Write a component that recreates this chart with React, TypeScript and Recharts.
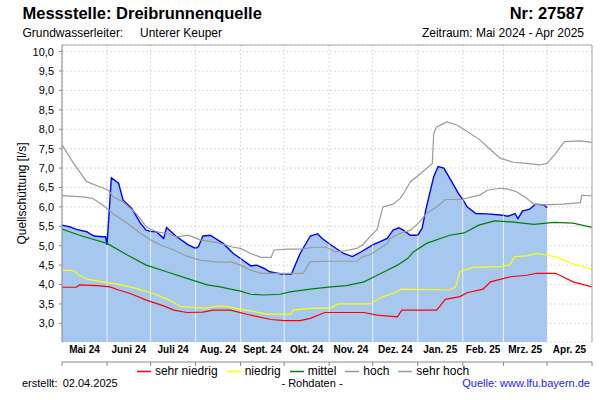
import React from 'react';
import {
  ComposedChart,
  Area,
  Line,
  XAxis,
  YAxis,
  CartesianGrid,
  Legend,
  ReferenceLine,
} from 'recharts';

const FONT = '"Liberation Sans", Arial, Helvetica, sans-serif';

// ---------- axes ----------
const monthStartDays = [0, 31, 61, 92, 123, 153, 184, 214, 245, 276, 304, 334, 365];
const monthLabels = ['Mai 24', 'Juni 24', 'Juli 24', 'Aug. 24', 'Sept. 24', 'Okt. 24', 'Nov. 24', 'Dez. 24', 'Jan. 25', 'Feb. 25', 'Mrz. 25', 'Apr. 25'];
const yTicks = [3.0, 3.5, 4.0, 4.5, 5.0, 5.5, 6.0, 6.5, 7.0, 7.5, 8.0, 8.5, 9.0, 9.5, 10.0];
const Y_MIN = 2.52;
const Y_MAX = 10.17;

// ---------- series (day index since 1 May 2024, value in l/s) ----------
const rohDays = [0, 5, 10, 17, 22, 28, 30, 31, 34, 39, 42, 48, 54, 58, 61, 65, 70, 72, 74, 79, 87, 92, 94, 97, 102, 111, 118, 123, 130, 134, 139, 143, 151, 153, 158, 164, 171, 176, 179, 184, 194, 200, 204, 214, 224, 228, 232, 235, 240, 245, 248, 251, 256, 259, 263, 267, 273, 276, 279, 285, 293, 302, 304, 307, 312, 314, 317, 322, 326, 332, 334];
const rohValues = [5.53, 5.49, 5.42, 5.36, 5.25, 5.23, 5.23, 5.02, 6.75, 6.61, 6.18, 5.96, 5.58, 5.40, 5.37, 5.36, 5.19, 5.47, 5.40, 5.23, 5.02, 4.93, 4.98, 5.25, 5.27, 5.06, 4.80, 4.67, 4.48, 4.50, 4.42, 4.33, 4.27, 4.27, 4.27, 4.80, 5.25, 5.31, 5.19, 5.05, 4.80, 4.72, 4.80, 5.02, 5.19, 5.40, 5.46, 5.40, 5.27, 5.27, 5.45, 6.00, 6.78, 7.04, 7.00, 6.74, 6.35, 6.19, 6.00, 5.83, 5.82, 5.79, 5.78, 5.76, 5.83, 5.70, 5.89, 5.94, 6.07, 6.05, 5.98];

const sehrHochDays = [0, 8, 17, 26, 32, 35, 42, 51, 58, 65, 72, 79, 87, 95, 107, 118, 123, 130, 137, 144, 146, 155, 165, 173, 182, 188, 195, 203, 207, 212, 217, 221, 228, 233, 236, 240, 247, 255, 256, 258, 265, 272, 279, 288, 294, 302, 311, 320, 329, 334, 340, 346, 357, 365];
const sehrHochValues = [7.60, 7.12, 6.65, 6.52, 6.43, 6.26, 6.13, 5.83, 5.49, 5.36, 5.32, 5.23, 5.27, 5.15, 5.08, 4.96, 4.93, 4.80, 4.70, 4.70, 4.89, 4.91, 4.91, 4.96, 4.96, 4.84, 4.87, 4.93, 5.02, 5.23, 5.42, 6.00, 6.07, 6.22, 6.39, 6.65, 6.86, 7.12, 7.89, 8.06, 8.19, 8.11, 7.94, 7.72, 7.51, 7.25, 7.15, 7.12, 7.08, 7.12, 7.38, 7.68, 7.70, 7.66];

const hochDays = [0, 14, 21, 28, 35, 45, 54, 61, 68, 77, 86, 95, 104, 114, 116, 123, 130, 137, 150, 166, 171, 184, 203, 207, 212, 218, 224, 226, 233, 240, 246, 251, 258, 264, 275, 288, 293, 302, 307, 313, 320, 325, 332, 345, 357, 358, 365];
const hochValues = [6.29, 6.26, 6.22, 6.05, 5.83, 5.58, 5.32, 5.15, 5.02, 4.89, 4.73, 4.63, 4.59, 4.57, 4.59, 4.50, 4.37, 4.29, 4.29, 4.29, 4.59, 4.60, 4.60, 4.72, 4.76, 4.91, 5.06, 5.19, 5.32, 5.40, 5.60, 5.83, 6.00, 6.19, 6.19, 6.31, 6.43, 6.48, 6.46, 6.39, 6.22, 6.07, 6.05, 6.07, 6.11, 6.30, 6.28];

const mittelDays = [0, 12, 31, 45, 58, 72, 86, 100, 109, 116, 123, 130, 139, 150, 157, 171, 185, 196, 208, 215, 224, 231, 238, 242, 251, 267, 277, 287, 298, 311, 325, 339, 352, 365];
const mittelValues = [5.43, 5.27, 5.06, 4.76, 4.50, 4.33, 4.16, 3.99, 3.94, 3.88, 3.83, 3.75, 3.73, 3.75, 3.81, 3.88, 3.94, 3.97, 4.07, 4.20, 4.37, 4.50, 4.67, 4.84, 5.06, 5.27, 5.33, 5.53, 5.64, 5.61, 5.55, 5.60, 5.58, 5.47];

const niedrigDays = [0, 8, 12, 17, 28, 38, 51, 63, 74, 82, 90, 100, 107, 114, 123, 130, 141, 158, 159, 173, 185, 190, 212, 221, 228, 234, 267, 271, 274, 283, 302, 308, 312, 320, 327, 334, 341, 352, 365];
const niedrigValues = [4.37, 4.36, 4.23, 4.14, 4.07, 4.01, 3.90, 3.77, 3.60, 3.43, 3.41, 3.39, 3.45, 3.43, 3.36, 3.32, 3.24, 3.24, 3.34, 3.39, 3.39, 3.50, 3.50, 3.69, 3.77, 3.88, 3.86, 3.94, 4.33, 4.44, 4.46, 4.50, 4.72, 4.74, 4.80, 4.76, 4.70, 4.53, 4.39];

const sehrNiedrigDays = [0, 10, 12, 24, 33, 39, 47, 58, 70, 77, 86, 97, 104, 116, 130, 144, 153, 164, 171, 181, 208, 217, 231, 234, 258, 264, 274, 279, 290, 295, 309, 320, 327, 340, 352, 365];
const sehrNiedrigValues = [3.93, 3.93, 3.99, 3.97, 3.94, 3.86, 3.77, 3.60, 3.45, 3.34, 3.28, 3.29, 3.34, 3.34, 3.21, 3.10, 3.07, 3.07, 3.13, 3.28, 3.28, 3.21, 3.17, 3.34, 3.34, 3.62, 3.69, 3.79, 3.88, 4.07, 4.20, 4.24, 4.29, 4.29, 4.07, 3.94];

const legendNames = ['sehr niedrig', 'niedrig', 'mittel', 'hoch', 'sehr hoch'];

// ---------- styles ----------
const C_RED = '#ff0000';
const C_YELLOW = '#ffff00';
const C_GREEN = '#008000';
const C_GREY = '#9a9a9a';
const C_BLUE = '#0000ff';
const C_FILL = '#a6c8ef';
const legendColors = [C_RED, C_YELLOW, C_GREEN, C_GREY, C_GREY];

const toPoints = (days: number[], values: number[]) => days.map((d, i) => ({ d, v: values[i] }));

const rohData = toPoints(rohDays, rohValues);
const sehrHochData = toPoints(sehrHochDays, sehrHochValues);
const hochData = toPoints(hochDays, hochValues);
const mittelData = toPoints(mittelDays, mittelValues);
const niedrigData = toPoints(niedrigDays, niedrigValues);
const sehrNiedrigData = toPoints(sehrNiedrigDays, sehrNiedrigValues);

const labelDays = monthLabels.map((_, i) => (monthStartDays[i] + monthStartDays[i + 1]) / 2);
const separatorDays = monthStartDays.filter((d) => d > 0 && d < rohDays[rohDays.length - 1]);

const LegendContent = () => (
  <div style={{ display: 'flex', justifyContent: 'center', alignItems: 'center', fontFamily: FONT, fontSize: 12, color: '#000', lineHeight: '13px', paddingLeft: 6 }}>
    {legendNames.map((name, i) => (
      <span key={name} style={{ display: 'inline-flex', alignItems: 'center', marginRight: i < legendNames.length - 1 ? 9 : 0 }}>
        <svg width={14} height={13} style={{ marginRight: 4 }}>
          <line x1={0} y1={6.5} x2={14} y2={6.5} stroke={legendColors[i]} strokeWidth={1.5} />
        </svg>
        <span>{name}</span>
      </span>
    ))}
  </div>
);

export default function App() {
  return (
    <div style={{ position: 'absolute', left: 0, top: 0, width: 600, height: 400, background: '#fff', fontFamily: FONT }}>
      <ComposedChart
        width={600}
        height={400}
        margin={{ top: 45, right: 8, left: 0, bottom: 34 }}
        style={{ fontFamily: FONT }}
      >
        <CartesianGrid xAxisId="m" yAxisId="l" stroke="#d9d9d9" strokeDasharray="2 2" />
        <XAxis
          xAxisId="m"
          dataKey="d"
          type="number"
          domain={[0, 365]}
          ticks={monthStartDays}
          tickFormatter={() => ''}
          tickSize={4}
          height={4}
          interval={0}
          stroke="#888"
          allowDataOverflow
        />
        <XAxis
          xAxisId="lbl"
          dataKey="d"
          type="number"
          domain={[0, 365]}
          ticks={labelDays}
          interval={0}
          tickFormatter={(d: number) => monthLabels[labelDays.indexOf(d)] ?? ''}
          axisLine={false}
          tickLine={false}
          tickSize={0}
          tickMargin={4}
          height={20}
          tick={{ fontSize: 10, fontWeight: 'bold', fill: '#000', fontFamily: FONT }}
          allowDataOverflow
        />
        <YAxis
          yAxisId="l"
          type="number"
          domain={[Y_MIN, Y_MAX]}
          ticks={yTicks}
          interval={0}
          width={62}
          tickSize={3}
          tickMargin={5}
          stroke="#888"
          allowDataOverflow
          tickFormatter={(v: number) => v.toFixed(1).replace('.', ',')}
          tick={{ fontSize: 11, fill: '#000', fontFamily: FONT }}
          label={{ value: 'Quellschüttung [l/s]', angle: -90, position: 'center', dx: -9, style: { fontSize: 12, fill: '#000', fontFamily: FONT } }}
        />
        <Area
          xAxisId="lbl"
          yAxisId="l"
          data={rohData}
          dataKey="v"
          type="linear"
          stroke={C_BLUE}
          strokeWidth={1.4}
          fill={C_FILL}
          fillOpacity={1}
          baseValue={Y_MIN}
          isAnimationActive={false}
          legendType="none"
          dot={false}
          activeDot={false}
        />
        {separatorDays.map((d) => (
          <ReferenceLine
            key={'sep' + d}
            xAxisId="m"
            yAxisId="l"
            segment={[{ x: d, y: Y_MIN }, { x: d, y: rohValues[rohDays.indexOf(d)] }]}
            stroke="#e8eef6"
            strokeWidth={1}
          />
        ))}
        <Line xAxisId="m" yAxisId="l" data={sehrNiedrigData} dataKey="v" name="sehr niedrig" type="linear" stroke={C_RED} strokeWidth={1.2} dot={false} activeDot={false} isAnimationActive={false} />
        <Line xAxisId="m" yAxisId="l" data={niedrigData} dataKey="v" name="niedrig" type="linear" stroke={C_YELLOW} strokeWidth={1.2} dot={false} activeDot={false} isAnimationActive={false} />
        <Line xAxisId="m" yAxisId="l" data={mittelData} dataKey="v" name="mittel" type="linear" stroke={C_GREEN} strokeWidth={1.2} dot={false} activeDot={false} isAnimationActive={false} />
        <Line xAxisId="m" yAxisId="l" data={hochData} dataKey="v" name="hoch" type="linear" stroke={C_GREY} strokeWidth={1.2} dot={false} activeDot={false} isAnimationActive={false} />
        <Line xAxisId="m" yAxisId="l" data={sehrHochData} dataKey="v" name="sehr hoch" type="linear" stroke={C_GREY} strokeWidth={1.2} dot={false} activeDot={false} isAnimationActive={false} />
        <ReferenceLine xAxisId="m" yAxisId="l" y={Y_MAX} stroke="#aaa" />
        <ReferenceLine xAxisId="m" yAxisId="l" x={365} stroke="#aaa" />
        <Legend
          verticalAlign="middle"
          align="center"
          layout="horizontal"
          content={LegendContent}
          wrapperStyle={{ top: 365, left: 0, width: 600, height: 13, bottom: 'auto' }}
        />
      </ComposedChart>
      <svg width={600} height={400} style={{ position: 'absolute', left: 0, top: 0, pointerEvents: 'none' }} fontFamily={FONT}>
        <text x={22.5} y={18.5} fontSize={16.5} fontWeight="bold" fill="#000">Messstelle: Dreibrunnenquelle</text>
        <text x={584} y={18.5} fontSize={16.5} fontWeight="bold" fill="#000" textAnchor="end">Nr: 27587</text>
        <text x={22.5} y={36.7} fontSize={12} fill="#000">Grundwasserleiter:</text>
        <text x={140} y={36.7} fontSize={12} fill="#000">Unterer Keuper</text>
        <text x={584} y={36.7} fontSize={12} fill="#000" textAnchor="end">Zeitraum: Mai 2024 - Apr 2025</text>
        <text x={22} y={386.5} fontSize={11} fill="#000">erstellt:</text>
        <text x={62.7} y={386.5} fontSize={11} fill="#000">02.04.2025</text>
        <text x={312} y={386.5} fontSize={11} fill="#000" textAnchor="middle">- Rohdaten -</text>
        <text x={590} y={386.5} fontSize={11} fill="#1a1aff" textAnchor="end">Quelle: www.lfu.bayern.de</text>
      </svg>
    </div>
  );
}
